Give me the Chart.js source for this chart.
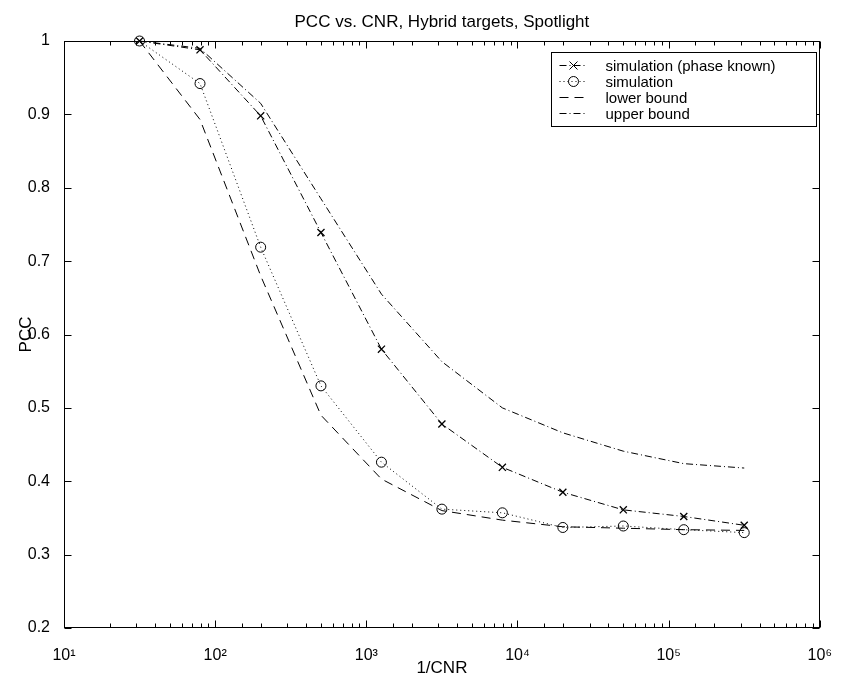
<!DOCTYPE html>
<html>
<head>
<meta charset="utf-8">
<title>PCC vs. CNR</title>
<script src="https://cdn.jsdelivr.net/npm/chart.js@4.4.1/dist/chart.umd.min.js"></script>
<style>
  body { margin: 0; background: #fff; }
  #wrap { width: 842px; height: 681px; }
</style>
</head>
<body>
<div id="wrap"><canvas id="pccChart" width="842" height="681"></canvas></div>
<script>
// Values
const invCnr = [31.6, 79.4, 200, 501, 1259, 3162, 7943, 19953, 50119, 125893, 316228];
const pccPhaseKnown = [1.0, 0.988, 0.898, 0.739, 0.580, 0.478, 0.419, 0.385, 0.361, 0.352, 0.340];
const pccSim = [1.0, 0.942, 0.719, 0.530, 0.426, 0.362, 0.357, 0.337, 0.339, 0.334, 0.330];
const pccLower = [1.0, 0.893, 0.680, 0.490, 0.403, 0.360, 0.347, 0.338, 0.336, 0.334, 0.333];
const pccUpper = [1.0, 0.990, 0.915, 0.785, 0.655, 0.563, 0.500, 0.466, 0.441, 0.424, 0.418];

const seriesLabels = ["simulation (phase known)", "simulation", "lower bound", "upper bound"];
const xTickLabels = ["10\u00B9", "10\u00B2", "10\u00B3", "10\u2074", "10\u2075", "10\u2076"];
const chartTitle = "PCC vs. CNR, Hybrid targets, Spotlight";

Chart.defaults.font.family = '"Liberation Sans", Arial, sans-serif';
Chart.defaults.font.size = 16;
Chart.defaults.color = "#000";

const ctx = document.getElementById("pccChart");

function toPoints(arr) {
  return invCnr.map((x, i) => ({ x: x, y: arr[i] }));
}

function isPow10(v) {
  const l = Math.log10(v);
  return Math.abs(l - Math.round(l)) < 1e-6;
}

// matlab style frame, inward ticks and boxed legend
const matlabFrame = {
  id: "matlabFrame",
  afterDatasetsDraw(chart) {
    const c = chart.ctx;
    const a = chart.chartArea;
    const xs = chart.scales.x;
    const ys = chart.scales.y;
    const L = Math.round(a.left) + 0.5, R = Math.round(a.right) - 0.5;
    const T = Math.round(a.top) + 0.5, B = Math.round(a.bottom) - 0.5;
    c.save();
    c.strokeStyle = "#000";
    c.lineWidth = 1;
    c.setLineDash([]);
    c.strokeRect(L, T, R - L, B - T);
    c.beginPath();
    for (const t of xs.ticks) {
      const px = Math.round(xs.getPixelForValue(t.value)) + 0.5;
      const len = isPow10(t.value) ? 7 : 4;
      c.moveTo(px, B); c.lineTo(px, B - len);
      c.moveTo(px, T); c.lineTo(px, T + len);
    }
    for (const t of ys.ticks) {
      const py = Math.round(ys.getPixelForValue(t.value)) + 0.5;
      c.moveTo(L, py); c.lineTo(L + 7, py);
      c.moveTo(R, py); c.lineTo(R - 7, py);
    }
    c.stroke();
    c.restore();
  },
  afterDraw(chart) {
    const c = chart.ctx;
    const a = chart.chartArea;
    const boxW = 265, rowH = 16;
    const bx = Math.round(a.right - 4 - boxW) + 0.5;
    const by = Math.round(a.top + 11) + 0.5;
    const bh = rowH * chart.data.datasets.length + 10;
    c.save();
    c.fillStyle = "#fff";
    c.fillRect(bx, by, boxW, bh);
    c.strokeStyle = "#000";
    c.lineWidth = 1;
    c.strokeRect(bx, by, boxW, bh);
    chart.data.datasets.forEach((ds, i) => {
      const yy = by + 13 + i * rowH;
      c.beginPath();
      c.setLineDash(ds.borderDash || []);
      c.moveTo(bx + 8, yy);
      c.lineTo(bx + 36, yy);
      c.stroke();
      c.setLineDash([]);
      const mx = bx + 22;
      if (ds.pointRadius > 0) {
        const r = ds.pointRadius;
        c.beginPath();
        if (ds.pointStyle === "circle") {
          c.arc(mx, yy, r, 0, Math.PI * 2);
        } else {
          const d = r * 0.8;
          c.moveTo(mx - d, yy - d); c.lineTo(mx + d, yy + d);
          c.moveTo(mx - d, yy + d); c.lineTo(mx + d, yy - d);
        }
        c.stroke();
      }
      c.fillStyle = "#000";
      c.font = '15px "Liberation Sans", Arial, sans-serif';
      c.textBaseline = "middle";
      c.textAlign = "left";
      c.fillText(ds.label, bx + 54, yy + 1);
    });
    c.restore();
  }
};

new Chart(ctx, {
  type: "line",
  data: {
    datasets: [
      {
        label: seriesLabels[0],
        data: toPoints(pccPhaseKnown),
        borderColor: "#000",
        borderWidth: 1,
        borderDash: [7, 3, 1, 3],
        pointStyle: "crossRot",
        pointRadius: 5,
        pointBorderColor: "#000",
        pointBorderWidth: 1.3,
        tension: 0,
        clip: false
      },
      {
        label: seriesLabels[1],
        data: toPoints(pccSim),
        borderColor: "#000",
        borderWidth: 1,
        borderDash: [1, 3],
        pointStyle: "circle",
        pointRadius: 5,
        pointBackgroundColor: "rgba(0,0,0,0)",
        pointBorderColor: "#000",
        pointBorderWidth: 1,
        tension: 0,
        clip: false
      },
      {
        label: seriesLabels[2],
        data: toPoints(pccLower),
        borderColor: "#000",
        borderWidth: 1,
        borderDash: [9, 6],
        pointRadius: 0,
        tension: 0
      },
      {
        label: seriesLabels[3],
        data: toPoints(pccUpper),
        borderColor: "#000",
        borderWidth: 1,
        borderDash: [7, 3, 1, 3],
        pointRadius: 0,
        tension: 0
      }
    ]
  },
  options: {
    responsive: false,
    animation: false,
    devicePixelRatio: 1,
    layout: { padding: { left: 0, right: 17, top: 0, bottom: 0 } },
    plugins: {
      legend: { display: false },
      tooltip: { enabled: false },
      title: {
        display: true,
        text: chartTitle,
        fullSize: false,
        color: "#000",
        font: { size: 17, weight: "normal" },
        padding: { top: 12, bottom: 8.6 }
      }
    },
    scales: {
      x: {
        type: "logarithmic",
        min: 10,
        max: 1000000,
        grid: { display: false },
        border: { display: false },
        afterFit: (scale) => { scale.height = 53; },
        ticks: {
          autoSkip: false,
          maxRotation: 0,
          padding: 10,
          font: { size: 16 },
          callback: (v) => isPow10(v) ? xTickLabels[Math.round(Math.log10(v)) - 1] : ""
        },
        title: { display: true, text: "1/CNR", font: { size: 17 }, padding: { top: 1, bottom: 2 } }
      },
      y: {
        min: 0.2,
        max: 1,
        grid: { display: false },
        border: { display: false },
        afterFit: (scale) => { scale.width = 64; },
        ticks: {
          stepSize: 0.1,
          padding: 6,
          font: { size: 16 },
          callback: (v) => (Math.abs(v - 1) < 1e-9 ? "1" : v.toFixed(1))
        },
        title: { display: true, text: "PCC", font: { size: 17 }, padding: { top: 16, bottom: 4 } }
      }
    }
  },
  plugins: [matlabFrame]
});
</script>
</body>
</html>
